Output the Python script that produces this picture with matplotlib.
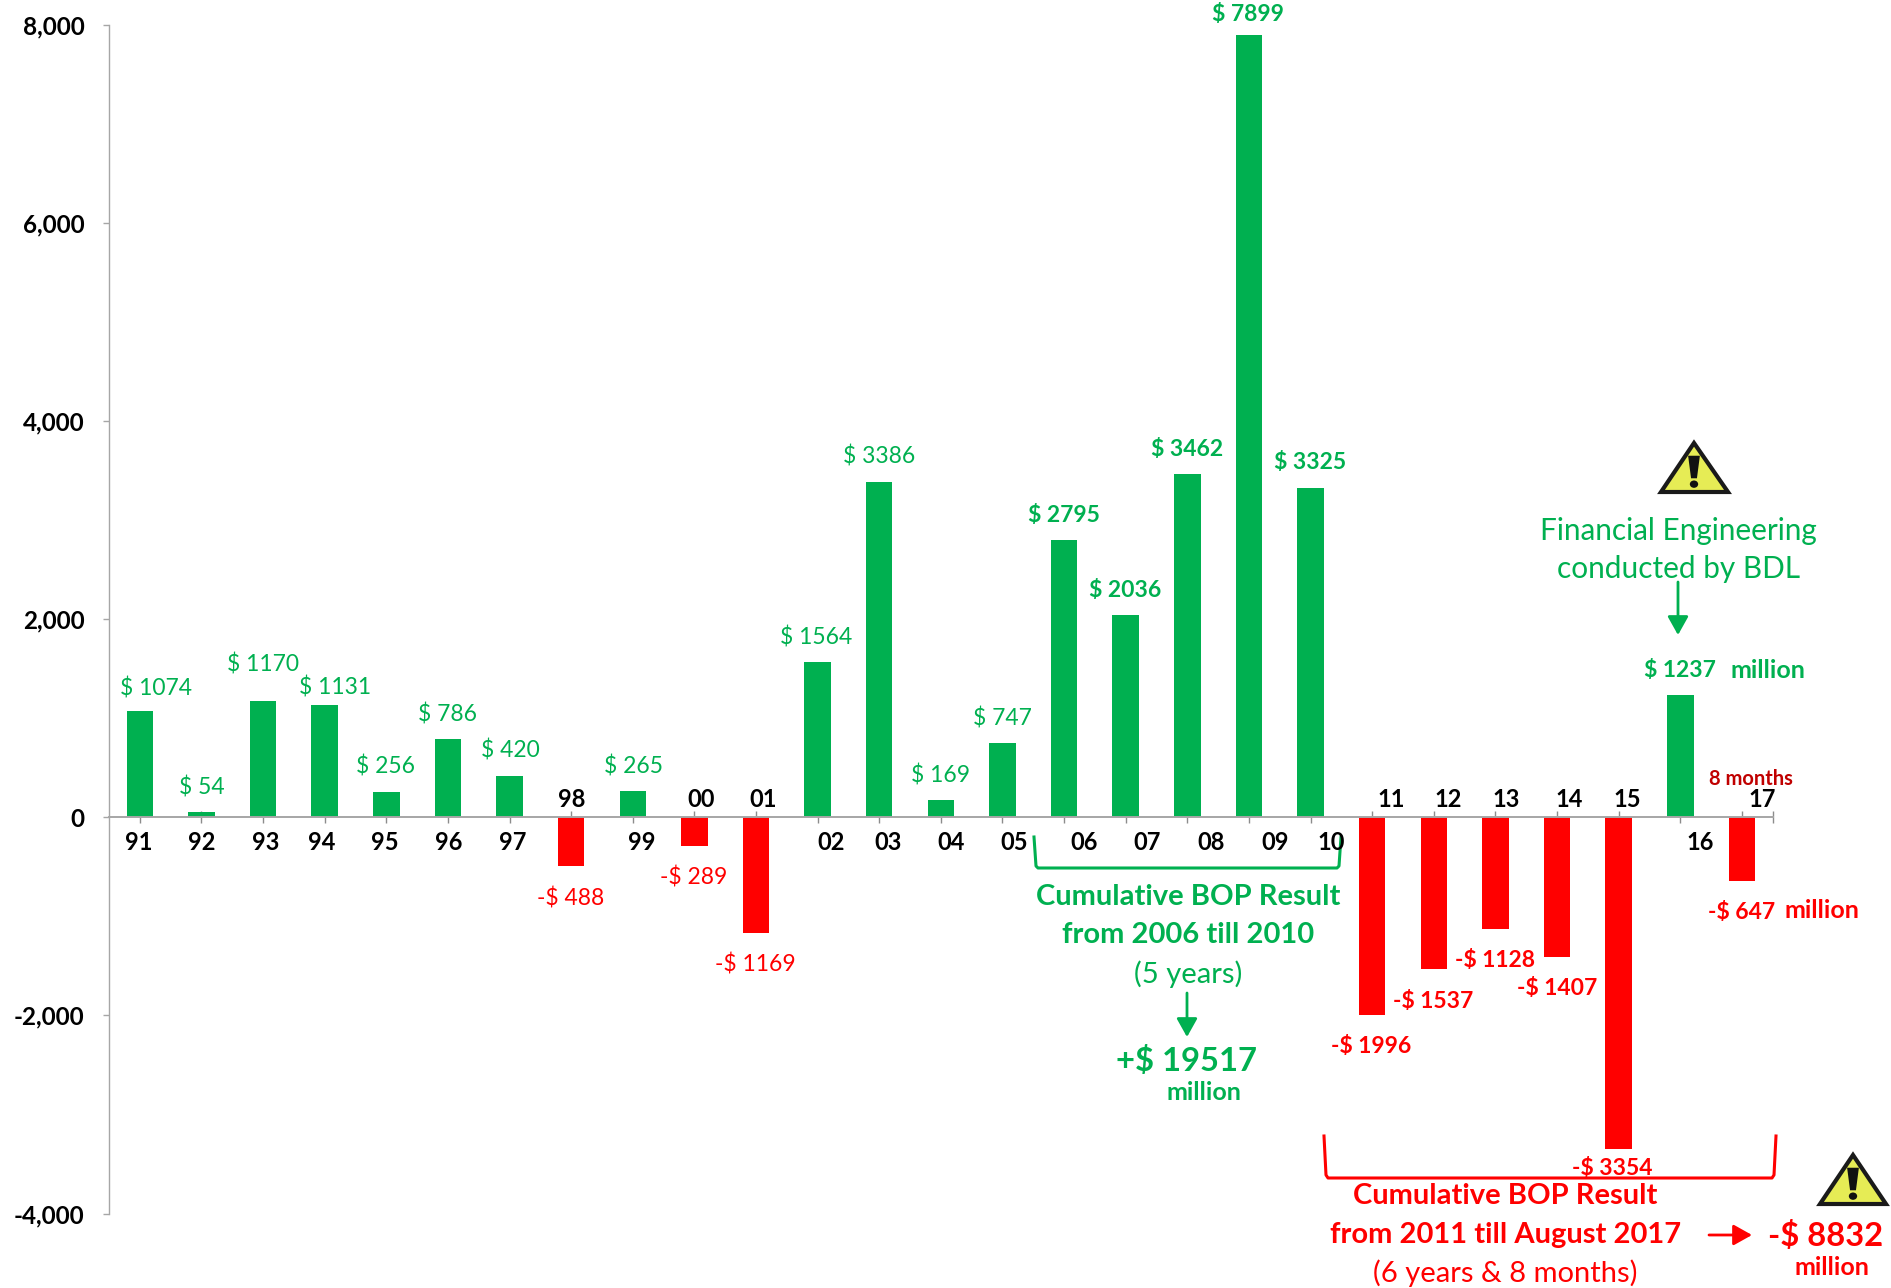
import matplotlib
matplotlib.use('Agg')
import matplotlib.pyplot as plt
from matplotlib.patches import Polygon, FancyArrowPatch, Ellipse
from matplotlib.lines import Line2D

plt.rcParams['font.family'] = ['Lato', 'DejaVu Sans']

W, H = 1891, 1288
S = 1891 / 1568.0   # text spots were read on the shrunk view

GREEN = '#00B050'
RED = '#FF0000'
DARKRED = '#C00000'
GREY = '#A6A6A6'

#===== data ================
years = ['91', '92', '93', '94', '95', '96', '97', '98', '99', '00', '01', '02', '03', '04',
         '05', '06', '07', '08', '09', '10', '11', '12', '13', '14', '15', '16', '17']
bop = [1074, 54, 1170, 1131, 256, 786, 420, -488, 265, -289, -1169, 1564, 3386, 169,
       747, 2795, 2036, 3462, 7899, 3325, -1996, -1537, -1128, -1407, -3354, 1237, -647]
yticks = [-4000, -2000, 0, 2000, 4000, 6000, 8000]

# where the labels sit, shrunk-view pixels
value_xy = [(129, 569), (167, 651), (218, 549), (278, 568), (320, 634), (371, 591), (423, 621),
            (473, 743), (525, 634), (575, 726), (626, 798), (677, 527), (729, 377), (780, 641),
            (831, 594), (882, 426), (933, 488), (984, 371), (1035, 10), (1086, 382),
            (1137, 866), (1188, 829), (1240, 795), (1291, 818), (1337, 967), (1393, 554), (1444, 755)]
year_xy = [(115, 697), (167, 697), (220, 697), (267, 697), (319, 697), (372, 697), (425, 697),
           (474, 661), (532, 697), (581, 661), (633, 661), (689, 697), (736, 697), (789, 697),
           (841, 697), (899, 697), (951, 697), (1004, 697), (1057, 697), (1104, 697),
           (1154, 661), (1201, 661), (1249, 661), (1301, 661), (1349, 661), (1410, 697), (1461, 661)]
FIRST_BOLD = 15  # labels from 2006 on are bold

#===== axes ================
fig = plt.figure(figsize=(W / 100, H / 100), dpi=100, facecolor='white')
ax = fig.add_axes([109 / W, 1 - 1213.5 / H, (1772.7 - 109) / W, (1213.5 - 24.5) / H])
ax.set_xlim(-0.5, 26.5)
ax.set_ylim(-4000, 8000)
ax.patch.set_alpha(0)

xs = list(range(len(bop)))
colors = [GREEN if v > 0 else RED for v in bop]
ax.bar(xs, bop, width=0.43, color=colors, zorder=2)

for s in ['top', 'right']:
    ax.spines[s].set_visible(False)
ax.spines['bottom'].set_position(('data', 0))
ax.spines['bottom'].set_color(GREY)
ax.spines['bottom'].set_linewidth(1.4)
ax.spines['bottom'].set_zorder(3)
ax.spines['left'].set_color(GREY)
ax.spines['left'].set_linewidth(1.0)

ax.set_xticks(xs + [26.5])
ax.set_xticklabels([])
ax.tick_params(axis='x', direction='inout', length=8.6, width=1.0, color='#8c8c8c')
ax.set_yticks(yticks)
ax.set_yticklabels(['{:,}'.format(v) for v in yticks], fontsize=17.5, fontweight='bold', color='black')
ax.tick_params(axis='y', direction='out', length=4.5, width=1.0, color=GREY, pad=13)


#===== helpers (full-size pixels to figure) ================
def P(x, y):
    return x / W, 1 - y / H


def label(x, y, txt, color, size=16.5, bold=False):
    # +2: text sat a little high against the reference
    fig.text(*P(x, y + 2), txt, color=color, fontsize=size, ha='center', va='center',
             fontweight='bold' if bold else 'normal')


def segs(points, color, lw=2.2):
    fig.add_artist(Line2D([P(*p)[0] for p in points], [P(*p)[1] for p in points],
                          color=color, lw=lw, transform=fig.transFigure,
                          solid_joinstyle='round'))


def arrow(a, b, color):
    fig.add_artist(FancyArrowPatch(
        P(*a), P(*b), transform=fig.transFigure, arrowstyle='-|>,head_length=0.75,head_width=0.42',
        mutation_scale=15, color=color, lw=2.0, shrinkA=0, shrinkB=0))


def warning(apex, left, right, base):
    fig.add_artist(Polygon([P(apex, base[0]), P(left, base[1]), P(right, base[1])], closed=True,
                           transform=fig.transFigure, facecolor='#E6EC55', edgecolor='#1a1a1a',
                           lw=3.0, joinstyle='miter'))
    h = base[1] - base[0]
    fig.add_artist(Polygon([P(apex - 0.12 * h, base[0] + 0.26 * h), P(apex + 0.12 * h, base[0] + 0.26 * h),
                            P(apex + 0.06 * h, base[0] + 0.72 * h), P(apex - 0.06 * h, base[0] + 0.72 * h)],
                           closed=True, transform=fig.transFigure, facecolor='#111111', edgecolor='none'))
    fig.add_artist(Ellipse(P(apex, base[0] + 0.84 * h), 0.17 * h / W, 0.15 * h / H,
                           transform=fig.transFigure, facecolor='#111111', edgecolor='none'))


#===== labels ================
for i, v in enumerate(bop):
    txt = '$ %d' % v if v > 0 else '-$ %d' % abs(v)
    x, y = value_xy[i]
    label(x * S, y * S, txt, GREEN if v > 0 else RED, bold=i >= FIRST_BOLD)

for yr, (x, y) in zip(years, year_xy):
    label(x * S, y * S, yr, 'black', size=17, bold=True)

label(1466 * S, 554 * S, 'million', GREEN, size=18, bold=True)
label(1511 * S, 753 * S, 'million', RED, size=18, bold=True)
label(1452 * S, 644 * S, '8 months', DARKRED, size=14.5, bold=True)

# 2006-2010 block
label(985 * S, 742 * S, 'Cumulative BOP Result', GREEN, size=21, bold=True)
label(985 * S, 774 * S, 'from 2006 till 2010', GREEN, size=21, bold=True)
label(985 * S, 806 * S, '(5 years)', GREEN, size=21)
label(984 * S, 878 * S, '+$ 19517', GREEN, size=23.6, bold=True)
label(998 * S, 904 * S, 'million', GREEN, size=18, bold=True)
segs([(1034, 837), (1036, 866), (1038, 868), (1337, 868), (1339, 866), (1341, 837)], GREEN)
arrow((1187, 993), (1187, 1037), GREEN)

# 2011-2017 block
label(1248 * S, 990 * S, 'Cumulative BOP Result', RED, size=21, bold=True)
label(1248 * S, 1022 * S, 'from 2011 till August 2017', RED, size=21, bold=True)
label(1248 * S, 1054 * S, '(6 years & 8 months)', RED, size=21)
label(1514 * S, 1023 * S, '-$ 8832', RED, size=23.6, bold=True)
label(1519 * S, 1049 * S, 'million', RED, size=18, bold=True)
segs([(1324, 1136), (1326, 1175), (1328, 1178), (1772, 1178), (1774, 1175), (1776, 1136)], RED)
arrow((1709, 1235), (1752, 1235), RED)

# financial engineering note
label(1392 * S, 439 * S, 'Financial Engineering', GREEN, size=21.4)
label(1392 * S, 470 * S, 'conducted by BDL', GREEN, size=21.4)
arrow((1678, 582), (1678, 635), GREEN)

warning(1694, 1661, 1728, (443, 492))
warning(1853, 1820, 1886, (1155, 1204))

fig.savefig('out.png', dpi=100, facecolor='white')
